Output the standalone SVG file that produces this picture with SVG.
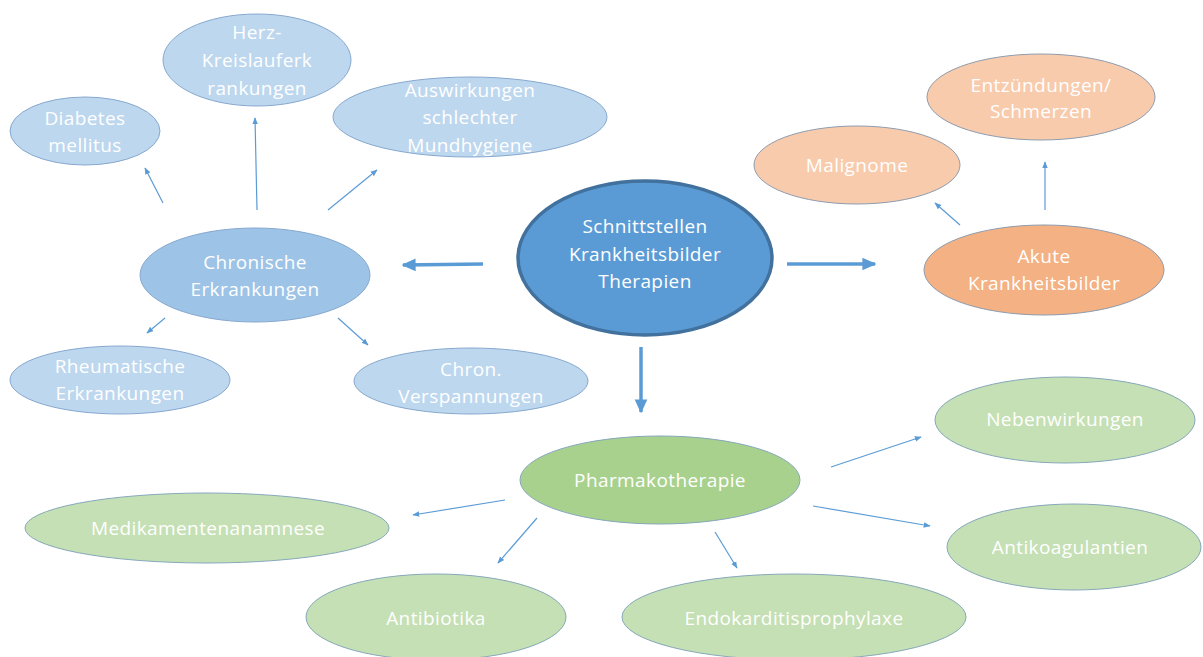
<svg xmlns="http://www.w3.org/2000/svg" width="1203" height="657" viewBox="0 0 1203 657">
<defs>
<marker id="ah" viewBox="0 0 10 10" refX="9" refY="5" markerWidth="7" markerHeight="7" markerUnits="userSpaceOnUse" orient="auto"><path d="M0,1 L10,5 L0,9 z" fill="#5B9BD5"/></marker>
<marker id="ahb" viewBox="0 0 10 10" refX="9" refY="5" markerWidth="14" markerHeight="14" markerUnits="userSpaceOnUse" orient="auto"><path d="M0,0.5 L10,5 L0,9.5 z" fill="#5B9BD5"/></marker>
</defs>
<style>
text{font-family:"Open Sans","Noto Sans",sans-serif;font-size:19px;fill:#ffffff;text-anchor:middle;dominant-baseline:central;letter-spacing:0.4px}
.blue2{fill:#BDD7EE;stroke:#86A8CF;stroke-width:1}
.blue1{fill:#9DC3E6;stroke:#86A8CF;stroke-width:1}
.main{fill:#5B9BD5;stroke:#41719C;stroke-width:3.5}
.or2{fill:#F8CBAD;stroke:#8E9CAE;stroke-width:1}
.or1{fill:#F4B183;stroke:#8E9CAE;stroke-width:1}
.gr1{fill:#A9D18E;stroke:#86A8BA;stroke-width:1}
.gr2{fill:#C5E0B4;stroke:#86A8BA;stroke-width:1}
.thin{stroke:#5B9BD5;stroke-width:1.2;fill:none;marker-end:url(#ah)}
.thick{stroke:#5B9BD5;stroke-width:3.5;fill:none;marker-end:url(#ahb)}
</style>
<rect width="1203" height="657" fill="#ffffff"/>
<g id="connectors">
<line class="thin" x1="163" y1="203" x2="145" y2="168"/>
<line class="thin" x1="257" y1="210" x2="255" y2="118"/>
<line class="thin" x1="328" y1="210" x2="377" y2="170"/>
<line class="thin" x1="165" y1="318" x2="147" y2="333"/>
<line class="thin" x1="338" y1="318" x2="368" y2="345"/>
<line class="thin" x1="960" y1="225" x2="935" y2="203"/>
<line class="thin" x1="1045" y1="210" x2="1045" y2="162"/>
<line class="thin" x1="505" y1="500" x2="413" y2="515"/>
<line class="thin" x1="537" y1="518" x2="498" y2="563"/>
<line class="thin" x1="715" y1="532" x2="737" y2="568"/>
<line class="thin" x1="831" y1="467" x2="921" y2="437"/>
<line class="thin" x1="813" y1="506" x2="930" y2="526"/>
<line class="thick" x1="483" y1="264" x2="403" y2="265"/>
<line class="thick" x1="787" y1="264" x2="875" y2="264"/>
<line class="thick" x1="641" y1="347" x2="641" y2="412"/>
</g>
<g id="n-center"><ellipse class="main" cx="645" cy="258" rx="127" ry="77"/><text x="645" y="226">Schnittstellen</text><text x="645" y="254">Krankheitsbilder</text><text x="645" y="281">Therapien</text></g>
<g id="n-chronisch"><ellipse class="blue1" cx="255" cy="275" rx="115" ry="47"/><text x="255" y="262">Chronische</text><text x="255" y="289">Erkrankungen</text></g>
<g id="n-herz"><ellipse class="blue2" cx="257" cy="60" rx="94" ry="46"/><text x="257" y="32">Herz-</text><text x="257" y="60">Kreislauferk</text><text x="257" y="88">rankungen</text></g>
<g id="n-diabetes"><ellipse class="blue2" cx="85" cy="131" rx="75" ry="34"/><text x="85" y="118">Diabetes</text><text x="85" y="145">mellitus</text></g>
<g id="n-auswirkungen"><ellipse class="blue2" cx="470" cy="117" rx="137" ry="40"/><text x="470" y="90">Auswirkungen</text><text x="470" y="117">schlechter</text><text x="470" y="145">Mundhygiene</text></g>
<g id="n-rheuma"><ellipse class="blue2" cx="120" cy="380" rx="110" ry="34"/><text x="120" y="366">Rheumatische</text><text x="120" y="393">Erkrankungen</text></g>
<g id="n-verspannungen"><ellipse class="blue2" cx="471" cy="381" rx="117" ry="33"/><text x="471" y="369">Chron.</text><text x="471" y="396">Verspannungen</text></g>
<g id="n-malignome"><ellipse class="or2" cx="857" cy="165" rx="103" ry="39"/><text x="857" y="165">Malignome</text></g>
<g id="n-entzuendungen"><ellipse class="or2" cx="1041" cy="97" rx="114" ry="43"/><text x="1041" y="85">Entzündungen/</text><text x="1041" y="111">Schmerzen</text></g>
<g id="n-akute"><ellipse class="or1" cx="1044" cy="270" rx="120" ry="45"/><text x="1044" y="256">Akute</text><text x="1044" y="283">Krankheitsbilder</text></g>
<g id="n-pharma"><ellipse class="gr1" cx="660" cy="480" rx="140" ry="44"/><text x="660" y="480">Pharmakotherapie</text></g>
<g id="n-neben"><ellipse class="gr2" cx="1065" cy="420" rx="130" ry="43"/><text x="1065" y="419">Nebenwirkungen</text></g>
<g id="n-antikoag"><ellipse class="gr2" cx="1074" cy="547" rx="127" ry="43"/><text x="1070" y="547">Antikoagulantien</text></g>
<g id="n-medik"><ellipse class="gr2" cx="207" cy="528" rx="182" ry="35"/><text x="208" y="528">Medikamentenanamnese</text></g>
<g id="n-antibiotika"><ellipse class="gr2" cx="436" cy="617" rx="130" ry="43"/><text x="436" y="618">Antibiotika</text></g>
<g id="n-endokard"><ellipse class="gr2" cx="794" cy="617" rx="172" ry="43"/><text x="794" y="618">Endokarditisprophylaxe</text></g>
</svg>
